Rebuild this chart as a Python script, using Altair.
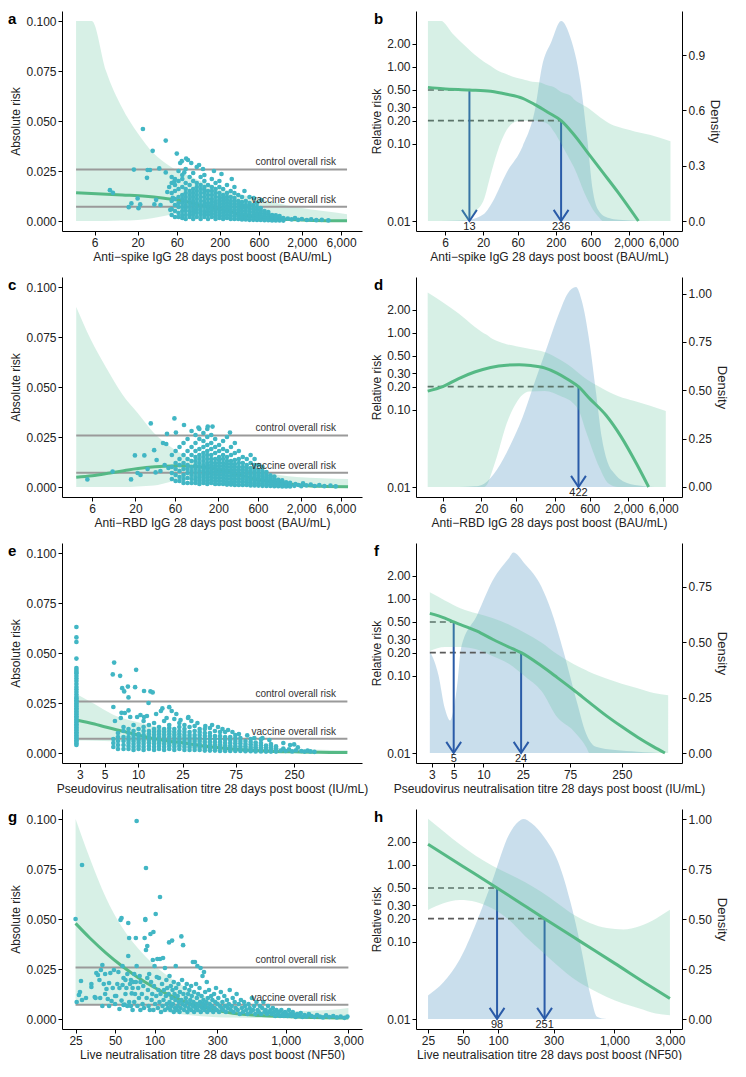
import altair as alt
import pandas as pd

FONT = "Liberation Sans"
LW, RW, PH = 300, 266, 220
PT_COLOR = "#41B6C4"
LINE_COLOR = "#55B985"
RIB_COLOR = "#5FC29A"
DENS_COLOR = "#9CC2DC"
ARROW_COLOR = "#2A5BA8"
GREY = "#9A9A9A"
CONTROL_RISK = 0.0258
VACCINE_RISK = 0.0071
RR_TICKS = [0.01, 0.1, 0.2, 0.3, 0.5, 1, 2]
AR_TICKS = [0, 0.025, 0.05, 0.075, 0.1]

# ---------------- axis ticks / titles ----------------
TICKS_AB = [6, 20, 60, 200, 600, 2000, 6000]
TICKS_E = [3, 5, 10, 25, 75, 250]
TICKS_G = [25, 50, 100, 300, 1000, 3000]
TITLE_AB = "Anti\u2212spike IgG 28 days post boost (BAU/mL)"
TITLE_CD = "Anti\u2212RBD IgG 28 days post boost (BAU/mL)"
TITLE_EF = "Pseudovirus neutralisation titre 28 days post boost (IU/mL)"
TITLE_GH = "Live neutralisation titre 28 days post boost (NF50)"

# ---------------- panel a ----------------
RIB_A_X = [3.56, 5.54, 8.25, 12.8, 20, 31.1, 48.5, 82.5, 117, 285, 692, 1676, 4060, 7100]
RIB_A_LO = [0, 0, 0, 0.0002, 0.0005, 0.0015, 0.003, 0.0045, 0.005, 0.004, 0.0005, 0.0002, 0.0001, 0.0001]
RIB_A_HI = [0.1, 0.1, 0.075, 0.057, 0.044, 0.034, 0.0276, 0.0227, 0.020, 0.0145, 0.0105, 0.007, 0.0047, 0.0034]
LINE_A_X = [3.56, 13, 25, 42, 70, 105, 157, 236, 353, 530, 877, 1455, 2700, 7100]
LINE_A_Y = [0.0141, 0.0130, 0.0124, 0.0114, 0.0101, 0.0083, 0.0066, 0.0052, 0.0034, 0.0022, 0.0012, 0.0007, 0.0003, 0.0001]
A_SPARSE = [(9.2, 0.0154), (10, 0.0141), (15.6, 0.0069), (16.8, 0.0088), (18, 0.0257), (20, 0.0113),
            (20.5, 0.0064), (21.5, 0.0083), (23.2, 0.046), (26, 0.0216), (26.5, 0.0255), (28.3, 0.0255),
            (30.5, 0.0351), (32, 0.0083), (33.6, 0.0106), (36.7, 0.0263), (38, 0.008), (44, 0.0402),
            (44, 0.0243), (46, 0.0145), (48.5, 0.017), (50, 0.0056), (53.6, 0.0116), (56, 0.0198),
            (60, 0.0337), (66, 0.029), (69, 0.0299), (74, 0.0243), (78, 0.0312), (82, 0.0305), (90, 0.029),
            (112, 0.028), (125, 0.026), (170, 0.025), (210, 0.0235), (280, 0.021), (400, 0.015),
            (520, 0.0115), (640, 0.0105), (1350, 0.0012), (1500, 0.0008), (1650, 0.0015), (1800, 0.0006),
            (2000, 0.001), (2300, 0.0005), (2600, 0.0008), (3000, 0.0004), (3500, 0.0006), (4200, 0.0003)]
A_COL_X = [52, 57, 63, 70, 77, 86, 95, 105, 117, 130, 144, 160, 178, 198, 220, 245, 272, 302, 336, 373,
           415, 461, 512, 569, 632, 702, 780, 867, 963, 1070, 1190]
A_COL_Y = [
    [0.003, 0.006, 0.010, 0.014, 0.019, 0.022],
    [0.002, 0.005, 0.008, 0.011, 0.015, 0.021, 0.018],
    [0.002, 0.004, 0.007, 0.009, 0.012, 0.016, 0.020, 0.025],
    [0.0015, 0.003, 0.005, 0.007, 0.009, 0.011, 0.013, 0.017, 0.021, 0.023],
    [0.001, 0.003, 0.005, 0.0065, 0.008, 0.010, 0.012, 0.014, 0.016, 0.019, 0.026],
    [0.002, 0.0035, 0.005, 0.007, 0.009, 0.011, 0.013, 0.015, 0.018, 0.022],
    [0.001, 0.003, 0.0045, 0.006, 0.008, 0.010, 0.012, 0.014, 0.016, 0.020, 0.024],
    [0.002, 0.004, 0.0055, 0.007, 0.009, 0.011, 0.013, 0.015, 0.017, 0.019, 0.027],
    [0.001, 0.003, 0.0045, 0.006, 0.008, 0.010, 0.012, 0.014, 0.016, 0.018, 0.022],
    [0.002, 0.0035, 0.005, 0.007, 0.0085, 0.010, 0.012, 0.014, 0.0155, 0.017, 0.020, 0.023],
    [0.001, 0.003, 0.0045, 0.006, 0.0075, 0.009, 0.011, 0.013, 0.015, 0.018],
    [0.002, 0.0035, 0.005, 0.0065, 0.008, 0.0095, 0.011, 0.013, 0.015, 0.017, 0.021],
    [0.001, 0.0025, 0.004, 0.0055, 0.007, 0.0085, 0.010, 0.012, 0.014, 0.016, 0.019],
    [0.0015, 0.003, 0.0045, 0.006, 0.0075, 0.009, 0.0105, 0.012, 0.014, 0.017, 0.020],
    [0.001, 0.0025, 0.004, 0.0055, 0.007, 0.0085, 0.010, 0.0115, 0.013, 0.016],
    [0.0015, 0.003, 0.0045, 0.006, 0.0075, 0.009, 0.0105, 0.012, 0.014, 0.018],
    [0.001, 0.0025, 0.004, 0.0055, 0.007, 0.0085, 0.010, 0.012, 0.015],
    [0.001, 0.0025, 0.004, 0.0055, 0.007, 0.0085, 0.010, 0.0115, 0.014, 0.017],
    [0.001, 0.0025, 0.004, 0.0055, 0.007, 0.0085, 0.010, 0.013],
    [0.0008, 0.002, 0.0035, 0.005, 0.0065, 0.008, 0.0095, 0.012],
    [0.0008, 0.002, 0.0035, 0.005, 0.0065, 0.008, 0.010],
    [0.0006, 0.0018, 0.003, 0.0045, 0.006, 0.0075, 0.009, 0.012],
    [0.0006, 0.0018, 0.003, 0.0045, 0.006, 0.008],
    [0.0005, 0.0015, 0.0028, 0.004, 0.0055, 0.007, 0.009],
    [0.0005, 0.0015, 0.0025, 0.0037, 0.005, 0.0065],
    [0.0004, 0.0013, 0.0023, 0.0035, 0.005],
    [0.0004, 0.0012, 0.0022, 0.0034, 0.0045],
    [0.0003, 0.001, 0.002, 0.003],
    [0.0003, 0.001, 0.0018, 0.0028],
    [0.0003, 0.0009, 0.0016, 0.0025],
    [0.0002, 0.0008, 0.0015],
]

# ---------------- panel b ----------------
RIB_B_X = [3.5, 5.3, 7.6, 9.3, 12.6, 15.4, 20.8, 25.5, 31.2, 42.3, 57.2, 70, 95, 116, 157, 192, 236, 319,
           353, 530, 648, 793, 877, 1074, 1455, 2412, 4000, 7500]
RIB_B_HI = [3.92, 3.92, 2.7, 2.22, 1.7, 1.43, 1.15, 1.02, 0.9, 0.80, 0.72, 0.69, 0.64, 0.63, 0.57, 0.54, 0.47,
            0.42, 0.38, 0.30, 0.26, 0.225, 0.21, 0.185, 0.165, 0.145, 0.13, 0.108]
RIB_B_LO = [0.01, 0.01, 0.01, 0.01, 0.0104, 0.013, 0.0196, 0.04, 0.077, 0.152, 0.195, 0.2, 0.2, 0.198, 0.18,
            0.14, 0.1, 0.06, 0.05, 0.02, 0.014, 0.011, 0.01, 0.01, 0.01, 0.01, 0.01, 0.01]
LINE_B_X = [3.5, 5.6, 13, 25.5, 42.3, 70, 105, 157, 236, 353, 530, 877, 1455, 2722]
LINE_B_Y = [0.54, 0.52, 0.5, 0.48, 0.44, 0.39, 0.32, 0.255, 0.2, 0.132, 0.08, 0.043, 0.023, 0.01]
DENS_B_X = [3.5, 7.6, 12.6, 20.8, 25.5, 42.3, 70, 105, 128, 174, 236, 319, 432, 530, 648, 793, 1074, 1455, 4000, 7500]
DENS_B_Y = [0, 0.001, 0.007, 0.04, 0.087, 0.264, 0.406, 0.619, 0.832, 0.974, 1.086, 0.992, 0.762, 0.477,
            0.158, 0.051, 0.016, 0.007, 0, 0]
ARROW_B_X = [13, 236]
ARROW_B_Y = [0.5, 0.2]
ARROW_B_TXT = ["13", "236"]

# ---------------- panel c ----------------
RIB_C_X = [3.86, 5.74, 8.91, 13.8, 21.5, 33.4, 51.8, 80.4, 125, 301, 726, 1750, 7330]
RIB_C_HI = [0.09, 0.074, 0.0595, 0.0465, 0.0367, 0.027, 0.0204, 0.0155, 0.0122, 0.009, 0.007, 0.005, 0.004]
RIB_C_LO = [0, 0, 0, 0, 0.0003, 0.0007, 0.0025, 0.0043, 0.0046, 0.003, 0.0004, 0.0002, 0.0001]
LINE_C_X = [3.86, 6, 9.9, 16.3, 26.9, 44.4, 66, 95, 145, 215, 300, 422, 600, 1000, 1600, 2600, 3800, 7330]
LINE_C_Y = [0.0049, 0.0056, 0.0070, 0.0085, 0.0097, 0.0104, 0.0106, 0.0104, 0.0097, 0.0083, 0.0068, 0.0053,
            0.0037, 0.0023, 0.0012, 0.0005, 0.0003, 0.0001]
C_SPARSE = [(5.26, 0.0038), (10.6, 0.0077), (17.7, 0.0038), (19.7, 0.0158), (25.6, 0.0158), (21.2, 0.007),
            (23, 0.006), (30.6, 0.0318), (33.6, 0.0184), (36, 0.0135), (47, 0.0215), (48, 0.0266),
            (59, 0.0343), (61.5, 0.0272), (77, 0.031), (115, 0.0297), (149, 0.0302), (170, 0.0302),
            (276, 0.0272), (43, 0.022), (28, 0.009), (35, 0.0073), (40, 0.008), (45, 0.011), (50, 0.0095),
            (1650, 0.0006), (1700, 0.0015), (1850, 0.001), (2000, 0.0004), (2100, 0.0018), (2300, 0.0008),
            (2600, 0.0012), (2900, 0.0005), (3300, 0.0009), (3800, 0.0004), (4500, 0.0007), (5200, 0.0003)]
C_COL_X = [55, 61, 68, 76, 85, 95, 106, 118, 132, 147, 164, 183, 204, 228, 254, 284, 316, 353, 394, 440,
           490, 547, 610, 681, 760, 848, 946, 1055, 1177, 1313, 1465]
C_COL_Y = [
    [0.004, 0.007, 0.010, 0.016],
    [0.003, 0.006, 0.009, 0.012, 0.018],
    [0.003, 0.005, 0.008, 0.011, 0.014, 0.020],
    [0.002, 0.004, 0.006, 0.009, 0.012, 0.016, 0.022],
    [0.002, 0.0045, 0.007, 0.009, 0.011, 0.014, 0.018, 0.024],
    [0.002, 0.004, 0.006, 0.008, 0.010, 0.013, 0.016, 0.020, 0.028],
    [0.002, 0.0035, 0.005, 0.007, 0.009, 0.011, 0.013, 0.015, 0.018, 0.022, 0.026],
    [0.0015, 0.003, 0.0045, 0.006, 0.008, 0.010, 0.012, 0.014, 0.016, 0.019, 0.024, 0.029],
    [0.002, 0.0035, 0.005, 0.0065, 0.008, 0.0095, 0.011, 0.013, 0.015, 0.017, 0.020, 0.023, 0.027],
    [0.0015, 0.003, 0.0045, 0.006, 0.0075, 0.009, 0.0105, 0.012, 0.014, 0.016, 0.018, 0.021, 0.025, 0.029],
    [0.002, 0.0035, 0.005, 0.0065, 0.008, 0.0095, 0.011, 0.0125, 0.014, 0.016, 0.019, 0.022, 0.026],
    [0.0015, 0.003, 0.0045, 0.006, 0.0075, 0.009, 0.0105, 0.012, 0.014, 0.017, 0.020, 0.024],
    [0.0015, 0.003, 0.0045, 0.006, 0.0075, 0.009, 0.0105, 0.012, 0.0135, 0.015, 0.018, 0.021],
    [0.0015, 0.003, 0.0045, 0.006, 0.0075, 0.009, 0.0105, 0.012, 0.014, 0.016, 0.019, 0.023],
    [0.0012, 0.0025, 0.004, 0.0055, 0.007, 0.0085, 0.010, 0.0115, 0.013, 0.015, 0.018, 0.025],
    [0.0012, 0.0025, 0.004, 0.0055, 0.007, 0.0085, 0.010, 0.0115, 0.013, 0.016, 0.020],
    [0.001, 0.0025, 0.004, 0.0055, 0.007, 0.0085, 0.010, 0.0115, 0.0135, 0.017, 0.022],
    [0.001, 0.0025, 0.004, 0.0055, 0.007, 0.0085, 0.010, 0.012, 0.014, 0.018],
    [0.001, 0.0025, 0.004, 0.0055, 0.007, 0.0085, 0.010, 0.012, 0.015],
    [0.001, 0.0022, 0.0035, 0.005, 0.0065, 0.008, 0.0095, 0.011, 0.014],
    [0.0008, 0.002, 0.0035, 0.005, 0.0065, 0.008, 0.0095, 0.012, 0.016],
    [0.0008, 0.002, 0.0033, 0.0047, 0.006, 0.0075, 0.009, 0.011, 0.014],
    [0.0007, 0.0018, 0.003, 0.0043, 0.0056, 0.007, 0.0085, 0.011],
    [0.0006, 0.0016, 0.0028, 0.004, 0.0052, 0.0065, 0.008, 0.010],
    [0.0005, 0.0015, 0.0026, 0.0037, 0.0048, 0.006, 0.0075],
    [0.0005, 0.0014, 0.0024, 0.0034, 0.0045, 0.0058],
    [0.0004, 0.0012, 0.0021, 0.003, 0.004, 0.0052],
    [0.0004, 0.0011, 0.0019, 0.0027, 0.0036],
    [0.0003, 0.001, 0.0017, 0.0025, 0.0033],
    [0.0003, 0.0009, 0.0015, 0.0023],
    [0.0003, 0.0008, 0.0014, 0.0021],
]

# ---------------- panel d ----------------
RIB_D_X = [3.75, 6, 9.9, 16.3, 22, 24.4, 26.9, 32.9, 44.4, 60, 89.6, 148, 244, 364, 422, 543, 810, 1094,
           1476, 2436, 6500]
RIB_D_HI = [3.32, 2.48, 1.77, 1.2, 0.98, 0.93, 0.86, 0.78, 0.71, 0.67, 0.62, 0.56, 0.44, 0.34, 0.3, 0.25,
            0.2, 0.17, 0.15, 0.13, 0.097]
RIB_D_LO = [0.01, 0.01, 0.01, 0.01, 0.01, 0.011, 0.014, 0.025, 0.066, 0.123, 0.173, 0.176, 0.15, 0.12, 0.1,
            0.05, 0.018, 0.011, 0.01, 0.01, 0.01]
LINE_D_X = [3.75, 6, 9.9, 16.3, 26.9, 44.4, 66, 95, 145, 215, 300, 422, 600, 1000, 1600, 2600, 3800]
LINE_D_Y = [0.175, 0.2, 0.255, 0.31, 0.355, 0.38, 0.385, 0.375, 0.35, 0.3, 0.25, 0.2, 0.14, 0.085, 0.045,
            0.02, 0.01]
DENS_D_X = [3.75, 9.9, 16.3, 22, 32.9, 49.1, 73.3, 109, 163, 230, 300, 390, 470, 600, 730, 880, 1070,
            1300, 1700, 2800, 4500, 6500]
DENS_D_Y = [0, 0, 0.003, 0.017, 0.09, 0.21, 0.36, 0.55, 0.74, 0.9, 1.0, 1.034, 0.96, 0.74, 0.49, 0.25,
            0.12, 0.07, 0.03, 0.007, 0, 0]
ARROW_D_X = [422]
ARROW_D_Y = [0.2]
ARROW_D_TXT = ["422"]

# ---------------- panel e ----------------
RIB_E_X = [2.8, 4.07, 5.92, 8.61, 12.5, 18.2, 26.4, 38.4, 55.7, 81, 109, 118, 171, 249, 361, 525, 750]
RIB_E_HI = [0.0295, 0.0245, 0.0193, 0.0162, 0.0140, 0.0117, 0.0092, 0.0069, 0.0049, 0.0037, 0.003, 0.0029,
            0.0024, 0.002, 0.0018, 0.0015, 0.0014]
RIB_E_LO = [0.0062, 0.0061, 0.0059, 0.0055, 0.0046, 0.0037, 0.0025, 0.0016, 0.0007, 0.0005, 0.0003, 0.0003,
            0.0003, 0.0003, 0.0003, 0.0003, 0.0003]
LINE_E_X = [2.8, 4.07, 4.99, 8.61, 12.5, 19.6, 24, 38.4, 55.7, 81, 118, 171, 249, 361, 525, 750]
LINE_E_Y = [0.0165, 0.0145, 0.0131, 0.0099, 0.0077, 0.0058, 0.0052, 0.0035, 0.0025, 0.0017, 0.0012, 0.0008,
            0.0006, 0.0004, 0.0003, 0.0002]
E_LLOQ_X = 2.8
E_LLOQ_Y = [0.004, 0.0048, 0.0056, 0.0064, 0.0072, 0.008, 0.0088, 0.0096, 0.0104, 0.0112, 0.012, 0.0128,
            0.0136, 0.0144, 0.0152, 0.016, 0.0168, 0.0176, 0.0184, 0.0192, 0.02, 0.0208, 0.0216, 0.0224,
            0.0232, 0.024, 0.0248, 0.0256, 0.0264, 0.0272, 0.028, 0.0292, 0.0305, 0.0318, 0.033, 0.0345,
            0.036, 0.0372, 0.0385, 0.0398, 0.0405, 0.0415, 0.0425, 0.0472, 0.0555, 0.0578, 0.063]
E_SPARSE = [(5.93, 0.0393), (6.1, 0.0452), (6.9, 0.0386), (7.2, 0.0324), (7.5, 0.0308), (8.1, 0.0332),
            (8.2, 0.0278), (9.6, 0.0416), (9.4, 0.0329), (11.3, 0.031), (12.9, 0.0308), (13.5, 0.0303),
            (12.4, 0.025), (6.0, 0.023), (7.1, 0.0201), (8.2, 0.0213), (9.8, 0.018), (11.3, 0.018),
            (16.5, 0.0223), (19, 0.0229), (20, 0.021), (28.2, 0.018), (6.2, 0.016), (7.0, 0.0175),
            (7.6, 0.02), (8.5, 0.018), (10.5, 0.019), (12, 0.0185), (14.5, 0.0195), (16, 0.021),
            (18, 0.0175), (22, 0.0195), (24, 0.0165), (28, 0.0175), (30, 0.016), (34, 0.015), (40, 0.0135),
            (46, 0.014), (52, 0.013), (57, 0.012), (64, 0.0115), (70, 0.0105), (80, 0.0095), (95, 0.0088),
            (110, 0.0075), (130, 0.0074), (150, 0.0065), (200, 0.005), (230, 0.004), (250, 0.0043),
            (190, 0.0012), (200, 0.0022), (210, 0.001), (225, 0.0018), (240, 0.0008), (260, 0.0013),
            (270, 0.0028), (290, 0.001), (310, 0.0007), (330, 0.0012), (350, 0.0008), (380, 0.0006)]
E_COL_X = [6.0, 6.6, 7.4, 8.2, 9.1, 10.1, 11.2, 12.5, 13.9, 15.4, 17.1, 19.0, 21.1, 23.4, 26.0, 28.9, 32.1,
           35.6, 39.6, 44.0, 48.8, 54.2, 60.2, 66.9, 74.3, 82.5, 91.6, 102, 113, 126, 140, 155, 172]
E_COL_Y = [
    [0.003, 0.005, 0.007],
    [0.002, 0.004, 0.006, 0.008, 0.010],
    [0.002, 0.004, 0.006, 0.008, 0.011, 0.013],
    [0.002, 0.0035, 0.005, 0.0065, 0.008, 0.010, 0.012],
    [0.0015, 0.003, 0.0045, 0.006, 0.0075, 0.009, 0.011, 0.014],
    [0.002, 0.0035, 0.005, 0.0065, 0.008, 0.0095, 0.012],
    [0.0015, 0.003, 0.0045, 0.006, 0.0075, 0.009, 0.011, 0.013, 0.016],
    [0.002, 0.0035, 0.005, 0.0065, 0.008, 0.0095, 0.011, 0.014],
    [0.0015, 0.003, 0.0045, 0.006, 0.0075, 0.009, 0.0105, 0.012, 0.015],
    [0.002, 0.0035, 0.005, 0.0065, 0.008, 0.0095, 0.011, 0.013],
    [0.0015, 0.003, 0.0045, 0.006, 0.0075, 0.009, 0.0105, 0.012, 0.016],
    [0.002, 0.0035, 0.005, 0.0065, 0.008, 0.0095, 0.011, 0.0125, 0.014],
    [0.0015, 0.003, 0.0045, 0.006, 0.0075, 0.009, 0.0105, 0.012, 0.017],
    [0.002, 0.0035, 0.005, 0.0065, 0.008, 0.0095, 0.011, 0.013, 0.015],
    [0.0015, 0.003, 0.0045, 0.006, 0.0075, 0.009, 0.0105, 0.012, 0.014],
    [0.0015, 0.003, 0.0045, 0.006, 0.0075, 0.009, 0.0105, 0.013],
    [0.0015, 0.003, 0.0045, 0.006, 0.0075, 0.009, 0.011, 0.0135],
    [0.0015, 0.003, 0.0045, 0.006, 0.0075, 0.009, 0.0105, 0.012],
    [0.0012, 0.0025, 0.004, 0.0055, 0.007, 0.0085, 0.010, 0.012],
    [0.0012, 0.0025, 0.004, 0.0055, 0.007, 0.0085, 0.010, 0.0125],
    [0.0012, 0.0025, 0.004, 0.0055, 0.007, 0.0085, 0.011],
    [0.001, 0.0025, 0.004, 0.0055, 0.007, 0.0085, 0.0105],
    [0.001, 0.0022, 0.0035, 0.005, 0.0065, 0.008, 0.0105],
    [0.001, 0.0022, 0.0035, 0.005, 0.0065, 0.008],
    [0.001, 0.002, 0.0033, 0.0047, 0.006, 0.0075, 0.009],
    [0.001, 0.002, 0.0033, 0.0047, 0.006, 0.0075],
    [0.0009, 0.002, 0.0032, 0.0045, 0.006],
    [0.0009, 0.0019, 0.003, 0.0042, 0.0055, 0.007],
    [0.0008, 0.0018, 0.0029, 0.004, 0.0052],
    [0.0008, 0.0018, 0.0028, 0.0038, 0.005, 0.0068],
    [0.0007, 0.0017, 0.0027, 0.0037],
    [0.0007, 0.0016, 0.0026, 0.0035, 0.0045],
    [0.0007, 0.0015, 0.0024, 0.0033],
]

# ---------------- panel f ----------------
RIB_F_X = [2.87, 4.07, 5.92, 8.61, 12.5, 18.2, 26.4, 38.4, 55.7, 81, 109, 118, 171, 249, 361, 525, 735]
RIB_F_HI = [1.21, 0.95, 0.75, 0.645, 0.56, 0.46, 0.36, 0.27, 0.19, 0.143, 0.118, 0.112, 0.093, 0.079, 0.069,
            0.06, 0.056]
RIB_F_LO = [0.21, 0.237, 0.237, 0.22, 0.18, 0.143, 0.098, 0.064, 0.029, 0.0195, 0.012, 0.01, 0.01, 0.01,
            0.01, 0.01, 0.01]
LINE_F_X = [2.87, 4.07, 4.99, 8.61, 12.5, 19.6, 24, 38.4, 55.7, 81, 118, 171, 249, 361, 525, 682]
LINE_F_Y = [0.645, 0.56, 0.5, 0.38, 0.296, 0.225, 0.2, 0.135, 0.095, 0.066, 0.045, 0.031, 0.022, 0.016,
            0.012, 0.01]
DENS_F_X = [2.87, 3.51, 4.07, 4.6, 5.0, 5.5, 5.92, 8.61, 12.5, 18.2, 20.0, 26.4, 38.4, 48, 64.7, 87.3, 109,
            137, 214, 361, 682, 735]
DENS_F_Y = [0.459, 0.35, 0.2, 0.146, 0.2, 0.33, 0.47, 0.62, 0.78, 0.88, 0.903, 0.85, 0.75, 0.645, 0.454,
            0.234, 0.087, 0.028, 0.013, 0.006, 0, 0]
ARROW_F_X = [5, 24]
ARROW_F_Y = [0.5, 0.2]
ARROW_F_TXT = ["5", "24"]

# ---------------- panel g ----------------
RIB_G_X = [25, 32.1, 42.5, 56.1, 74.2, 98.1, 130, 171, 226, 299, 395, 691, 1208, 2110, 3000]
RIB_G_HI = [0.1, 0.0804, 0.0608, 0.0462, 0.0356, 0.0274, 0.0209, 0.016, 0.0122, 0.0095, 0.0073, 0.0046,
            0.0040, 0.0045, 0.0055]
RIB_G_LO = [0.0068, 0.0075, 0.0075, 0.007, 0.006, 0.0048, 0.0032, 0.0021, 0.0014, 0.0009, 0.0007, 0.0005,
            0.0004, 0.0003, 0.0003]
LINE_G_X = [25, 32.1, 42.5, 56.1, 74.2, 98.1, 130, 171, 226, 299, 395, 691, 1208, 3000]
LINE_G_Y = [0.0478, 0.0405, 0.0331, 0.0266, 0.0209, 0.016, 0.0119, 0.0086, 0.0062, 0.0042, 0.0029, 0.0016,
            0.001, 0.0005]
G_SPARSE = [
    (25, 0.050), (28, 0.077), (25.5, 0.0085), (26.5, 0.012), (27, 0.0135), (27.5, 0.019), (28, 0.0095),
    (30, 0.0105), (33, 0.016), (33, 0.0175), (35, 0.011), (35.5, 0.0105), (36, 0.023), (37, 0.022),
    (38, 0.0195), (38.5, 0.0105), (39, 0.0245), (40, 0.027), (40, 0.0065), (41, 0.0175), (42, 0.0125),
    (42, 0.0225), (43, 0.015), (44, 0.01), (45, 0.018), (45, 0.0065), (46, 0.023), (47, 0.009),
    (48, 0.0155), (49, 0.0245), (50, 0.0075), (50, 0.0115), (51, 0.0115), (52, 0.0175), (53, 0.0235),
    (54, 0.005), (54, 0.0155), (55, 0.0495), (56, 0.0505), (56, 0.0092), (57, 0.017), (57, 0.0265),
    (58, 0.0205), (58, 0.007), (59, 0.0072), (60, 0.0125), (60, 0.0195), (61, 0.0155), (62, 0.0225),
    (62, 0.0065), (63, 0.048), (63, 0.0315), (64, 0.0405), (64, 0.0085), (65, 0.0175), (66, 0.0195),
    (66, 0.0065), (67, 0.0128), (68, 0.0155), (68, 0.0045), (69, 0.0185), (70, 0.0225), (70, 0.0085),
    (71, 0.0125), (72, 0.0405), (72, 0.0185), (73, 0.099), (73, 0.0265), (74, 0.0065), (75, 0.0155),
    (76, 0.0105), (77, 0.0215), (78, 0.0045), (78, 0.0185), (80, 0.0125), (81, 0.0075), (82, 0.0165),
    (83, 0.0055), (84, 0.0405), (85, 0.050), (85, 0.0495), (86, 0.0755), (86, 0.0345), (87, 0.0105),
    (88, 0.0365), (88, 0.0205), (89, 0.0145), (90, 0.0065), (91, 0.0225), (92, 0.0045), (93, 0.0425),
    (94, 0.0185), (95, 0.0095), (96, 0.0125), (97, 0.0295), (98, 0.0435), (98, 0.0045), (99, 0.0165),
    (100, 0.0265), (101, 0.0075), (102, 0.0525), (103, 0.0115), (104, 0.021), (105, 0.030), (106, 0.0055),
    (107, 0.0145), (108, 0.0205), (109, 0.0085), (110, 0.061), (110, 0.030), (111, 0.0125), (112, 0.0035),
    (114, 0.0175), (115, 0.0065), (116, 0.0305), (117, 0.0095), (118, 0.0145), (120, 0.0255), (120, 0.0045),
    (122, 0.0115), (123, 0.0195), (124, 0.0075), (125, 0.0155), (126, 0.0055), (128, 0.0125), (129, 0.0383),
    (130, 0.0215), (130, 0.0085), (132, 0.0045), (133, 0.0165), (134, 0.0065), (135, 0.0105), (136, 0.0392),
    (137, 0.0145), (138, 0.0075), (140, 0.0185), (140, 0.0035), (142, 0.0125), (143, 0.0055), (144, 0.0095),
    (145, 0.0265), (146, 0.0155), (148, 0.0045), (150, 0.0065), (150, 0.0115), (152, 0.0175), (153, 0.0085),
    (155, 0.0035), (156, 0.0135), (158, 0.0055), (160, 0.0413), (160, 0.0095), (162, 0.0195), (163, 0.0075),
    (165, 0.0369), (166, 0.0125), (168, 0.0045), (170, 0.0155), (171, 0.0065), (173, 0.0105), (175, 0.0085),
    (176, 0.0175), (178, 0.0035), (180, 0.0125), (182, 0.0055), (184, 0.0145), (185, 0.0075), (187, 0.0095),
    (190, 0.0165), (190, 0.0045), (192, 0.0115), (195, 0.0065), (196, 0.0285), (198, 0.0085), (200, 0.0135),
    (200, 0.0035), (203, 0.0285), (205, 0.0055), (207, 0.0175), (209, 0.0075), (210, 0.0105), (212, 0.0265),
    (213, 0.0045), (215, 0.0125), (218, 0.0065), (220, 0.0155), (222, 0.0085), (224, 0.0255), (225, 0.0035),
    (228, 0.0115), (230, 0.0055), (232, 0.0215), (234, 0.0075), (236, 0.0095), (238, 0.0235), (240, 0.0045),
    (243, 0.0135), (245, 0.0065), (248, 0.0085), (250, 0.0185), (252, 0.0035), (255, 0.0105), (258, 0.0055),
    (260, 0.0145), (263, 0.0075), (266, 0.0045), (270, 0.0115), (273, 0.0065), (276, 0.0095), (280, 0.0035),
    (284, 0.0125), (287, 0.0055), (290, 0.0085), (294, 0.0155), (298, 0.0045), (302, 0.0075), (306, 0.0105),
    (310, 0.0035), (315, 0.0065), (320, 0.0135), (324, 0.0055), (329, 0.0085), (334, 0.0045), (340, 0.0115),
    (345, 0.0065), (350, 0.0035), (356, 0.0095), (362, 0.0055), (368, 0.0075), (374, 0.0145), (380, 0.0045),
    (387, 0.0065), (394, 0.0105), (400, 0.0035), (408, 0.0085), (415, 0.0055), (422, 0.0125), (430, 0.0045),
    (438, 0.0075), (446, 0.0025), (455, 0.0095), (463, 0.0055), (472, 0.0035), (481, 0.0085), (490, 0.0065),
    (500, 0.0045), (510, 0.0025), (520, 0.0075), (531, 0.0055), (541, 0.0035), (552, 0.0105), (563, 0.0045),
    (575, 0.0065), (586, 0.0025), (598, 0.0085), (610, 0.0045), (622, 0.0035), (635, 0.0065), (648, 0.0025),
    (661, 0.0055), (675, 0.0085), (689, 0.0035), (703, 0.0045), (718, 0.0025), (733, 0.0065), (748, 0.0035),
    (764, 0.0045), (780, 0.0025), (797, 0.0055), (814, 0.0035), (831, 0.0015), (849, 0.0045), (867, 0.0025),
    (886, 0.0035), (905, 0.0015), (925, 0.0045), (945, 0.0025), (966, 0.0015), (988, 0.0035), (1010, 0.0025),
    (1033, 0.0015), (1056, 0.0045), (1080, 0.0025), (1105, 0.0015), (1130, 0.0035), (1160, 0.002),
    (1190, 0.001), (1220, 0.0025), (1260, 0.0015), (1300, 0.003), (1340, 0.001), (1390, 0.002),
    (1440, 0.0012), (1500, 0.0025), (1570, 0.0015), (1650, 0.001), (1730, 0.002), (1820, 0.0012),
    (1920, 0.0008), (2030, 0.0018), (2150, 0.001), (2300, 0.0015), (2450, 0.0008), (2620, 0.0012),
    (2800, 0.0006), (2950, 0.0012)]

# ---------------- panel h ----------------
RIB_H_X = [25, 33.9, 46.8, 64.7, 89.4, 124, 171, 236, 326, 451, 623, 860, 1190, 1642, 2269, 3000]
RIB_H_HI = [3.94, 2.72, 1.84, 1.30, 0.97, 0.76, 0.594, 0.443, 0.315, 0.223, 0.175, 0.151, 0.145, 0.16, 0.2, 0.26]
RIB_H_LO = [0.259, 0.317, 0.35, 0.33, 0.27, 0.193, 0.118, 0.076, 0.049, 0.033, 0.0246, 0.0193, 0.0159,
            0.0137, 0.0118, 0.0112]
LINE_H_X = [25, 50, 98, 160, 251, 500, 1000, 2000, 3000]
LINE_H_Y = [1.84, 0.95, 0.5, 0.31, 0.2, 0.103, 0.053, 0.027, 0.0184]
DENS_H_X = [25, 33.9, 46.8, 64.7, 89.4, 124, 150, 165, 194, 252, 326, 422, 513, 623, 709, 860, 3000]
DENS_H_Y = [0.118, 0.184, 0.298, 0.479, 0.692, 0.921, 0.987, 1.0, 0.979, 0.905, 0.79, 0.577, 0.364, 0.118,
            0.011, 0, 0]
ARROW_H_X = [98, 251]
ARROW_H_Y = [0.5, 0.2]
ARROW_H_TXT = ["98", "251"]


# ======================= builders =======================
def xenc(field, dom, ticks, title):
    return alt.X(field, type="quantitative",
                 scale=alt.Scale(type="log", domain=dom, nice=False),
                 axis=alt.Axis(values=ticks, format=",", title=title, labelFlush=False))


def yabs(field):
    return alt.Y(field, type="quantitative",
                 scale=alt.Scale(domain=[-0.005, 0.105], nice=False, zero=False),
                 axis=alt.Axis(values=AR_TICKS, format=".3f", title="Absolute risk"))


def yrr(field):
    return alt.Y(field, type="quantitative",
                 scale=alt.Scale(type="log", domain=[0.00742, 5.28], nice=False),
                 axis=alt.Axis(values=RR_TICKS, format=".2f", title="Relative risk", orient="left"))


def letter_layer(ch, dx):
    return alt.Chart(pd.DataFrame({"t": [ch]})).mark_text(
        align="left", baseline="top", fontSize=15, fontWeight="bold", color="black"
    ).encode(x=alt.value(dx), y=alt.value(1), text="t:N")


def points_df(sparse, col_x=None, col_y=None, lloq_x=None, lloq_y=None):
    xs, ys = [], []
    for x, y in sparse:
        xs.append(x)
        ys.append(y)
    if col_x is not None:
        for cx, cys in zip(col_x, col_y):
            for y in cys:
                xs.append(cx)
                ys.append(y)
    if lloq_y is not None:
        for y in lloq_y:
            xs.append(lloq_x)
            ys.append(y)
    return pd.DataFrame({"x": xs, "y": ys})


def left_panel(ch, dom, ticks, title, rx, rlo, rhi, lx, ly, pts):
    X = lambda f: xenc(f, dom, ticks, title)
    rib = alt.Chart(pd.DataFrame({"x": rx, "lo": rlo, "hi": rhi})).mark_area(
        color=RIB_COLOR, opacity=0.25, interpolate="monotone", clip=True
    ).encode(x=X("x"), y=yabs("lo"), y2=alt.Y2("hi"))
    rdf = pd.DataFrame({"x0": [rx[0], rx[0]], "x1": [rx[-1], rx[-1]],
                        "lvl": [CONTROL_RISK, VACCINE_RISK],
                        "txt": ["control overall risk", "vaccine overall risk"]})
    rules = alt.Chart(rdf).mark_rule(color=GREY, strokeWidth=2).encode(
        x=X("x0"), x2=alt.X2("x1"), y=yabs("lvl"))
    line = alt.Chart(pd.DataFrame({"x": lx, "y": ly})).mark_line(
        color=LINE_COLOR, strokeWidth=3, interpolate="monotone", clip=True
    ).encode(x=X("x"), y=yabs("y"))
    pt = alt.Chart(pts).mark_circle(size=22, color=PT_COLOR, opacity=1, clip=True).encode(
        x=X("x"), y=yabs("y"))
    labels = alt.Chart(rdf).mark_text(align="right", baseline="bottom", dy=-2, fontSize=10,
                                      color="#333333").encode(
        x=alt.value(LW - 26), y=yabs("lvl"), text="txt:N")
    return alt.layer(rib, rules, line, pt, labels, letter_layer(ch, -54)).properties(width=LW, height=PH)


def right_panel(ch, dom, ticks, title, dx, dy, ddom, dticks, dfmt, rx, rlo, rhi, lx, ly, ax, ay, atxt):
    X = lambda f: xenc(f, dom, ticks, title)
    dens = alt.Chart(pd.DataFrame({"x": dx, "d": dy, "z": [0.0] * len(dx)})).mark_area(
        color=DENS_COLOR, opacity=0.55, interpolate="monotone", clip=True
    ).encode(
        x=X("x"),
        y=alt.Y("d", type="quantitative", scale=alt.Scale(domain=ddom, nice=False, zero=False),
                axis=alt.Axis(values=dticks, format=dfmt, title="Density", orient="right",
                              titleFontSize=13, titlePadding=3)),
        y2=alt.Y2("z"))
    x0 = rx[0]
    adf = pd.DataFrame({"x": ax, "y": ay, "x0": [x0] * len(ax), "bot": [0.01] * len(ax), "txt": atxt})
    dashes = alt.Chart(adf).mark_rule(color="#5A5A5A", strokeWidth=1.6, strokeDash=[6, 4]).encode(
        x=X("x0"), x2=alt.X2("x"), y=yrr("y"))
    shafts = alt.Chart(adf).mark_rule(color=ARROW_COLOR, strokeWidth=2).encode(
        x=X("x"), y=yrr("y"), y2=alt.Y2("bot"))
    heads = alt.Chart(adf).mark_point(shape="M-1,-1.5L0,0L1,-1.5", filled=False, size=220,
                                      strokeWidth=2, color=ARROW_COLOR, opacity=1).encode(
        x=X("x"), y=yrr("bot"))
    rib = alt.Chart(pd.DataFrame({"x": rx, "lo": rlo, "hi": rhi})).mark_area(
        color=RIB_COLOR, opacity=0.25, interpolate="monotone", clip=True
    ).encode(x=X("x"), y=yrr("lo"), y2=alt.Y2("hi"))
    line = alt.Chart(pd.DataFrame({"x": lx, "y": ly})).mark_line(
        color=LINE_COLOR, strokeWidth=3, interpolate="monotone", clip=True
    ).encode(x=X("x"), y=yrr("y"))
    atext = alt.Chart(adf).mark_text(baseline="top", dy=0, fontSize=11, color="#222222").encode(
        x=X("x"), y=yrr("bot"), text="txt:N")
    inner = alt.layer(dashes, shafts, heads, rib, line, atext, letter_layer(ch, -42))
    return alt.layer(dens, inner).resolve_scale(y="independent").properties(width=RW, height=PH)


DOM_AB = [2.4, 10800]
DOM_CD = [2.6, 10800]
DOM_EF = [2.08, 1014]
DOM_GH = [19.7, 3810]

pa = left_panel("a", DOM_AB, TICKS_AB, TITLE_AB, RIB_A_X, RIB_A_LO, RIB_A_HI, LINE_A_X, LINE_A_Y,
                points_df(A_SPARSE, A_COL_X, A_COL_Y))
pb = right_panel("b", DOM_AB, TICKS_AB, TITLE_AB, DENS_B_X, DENS_B_Y, [-0.054, 1.14], [0, 0.3, 0.6, 0.9],
                 ".1f", RIB_B_X, RIB_B_LO, RIB_B_HI, LINE_B_X, LINE_B_Y, ARROW_B_X, ARROW_B_Y, ARROW_B_TXT)
pc = left_panel("c", DOM_CD, TICKS_AB, TITLE_CD, RIB_C_X, RIB_C_LO, RIB_C_HI, LINE_C_X, LINE_C_Y,
                points_df(C_SPARSE, C_COL_X, C_COL_Y))
pd_ = right_panel("d", DOM_CD, TICKS_AB, TITLE_CD, DENS_D_X, DENS_D_Y, [-0.052, 1.086],
                  [0, 0.25, 0.5, 0.75, 1.0], ".2f", RIB_D_X, RIB_D_LO, RIB_D_HI, LINE_D_X, LINE_D_Y,
                  ARROW_D_X, ARROW_D_Y, ARROW_D_TXT)
pe = left_panel("e", DOM_EF, TICKS_E, TITLE_EF, RIB_E_X, RIB_E_LO, RIB_E_HI, LINE_E_X, LINE_E_Y,
                points_df(E_SPARSE, E_COL_X, E_COL_Y, E_LLOQ_X, E_LLOQ_Y))
pf = right_panel("f", DOM_EF, TICKS_E, TITLE_EF, DENS_F_X, DENS_F_Y, [-0.045, 0.946],
                 [0, 0.25, 0.5, 0.75], ".2f", RIB_F_X, RIB_F_LO, RIB_F_HI, LINE_F_X, LINE_F_Y,
                 ARROW_F_X, ARROW_F_Y, ARROW_F_TXT)
pg = left_panel("g", DOM_GH, TICKS_G, TITLE_GH, RIB_G_X, RIB_G_LO, RIB_G_HI, LINE_G_X, LINE_G_Y,
                points_df(G_SPARSE))
ph = right_panel("h", DOM_GH, TICKS_G, TITLE_GH, DENS_H_X, DENS_H_Y, [-0.05, 1.05],
                 [0, 0.25, 0.5, 0.75, 1.0], ".2f", RIB_H_X, RIB_H_LO, RIB_H_HI, LINE_H_X, LINE_H_Y,
                 ARROW_H_X, ARROW_H_Y, ARROW_H_TXT)

chart = alt.concat(pa, pb, pc, pd_, pe, pf, pg, ph, columns=2,
                   spacing={"row": 46, "column": 54}, bounds="flush").properties(
    padding={"left": 0, "top": 3, "right": 5, "bottom": 0}
).configure_axis(
    grid=False, domainColor="black", tickColor="black", domainWidth=1, tickWidth=1, tickSize=4,
    labelColor="#222222", titleColor="#222222", labelFont=FONT, titleFont=FONT,
    labelFontSize=12, titleFontSize=12, titleFontWeight="normal", labelPadding=2, titlePadding=3
).configure_view(stroke=None).configure_text(font=FONT)

chart.save("out.html", embed_options={"renderer": "svg", "actions": False})
